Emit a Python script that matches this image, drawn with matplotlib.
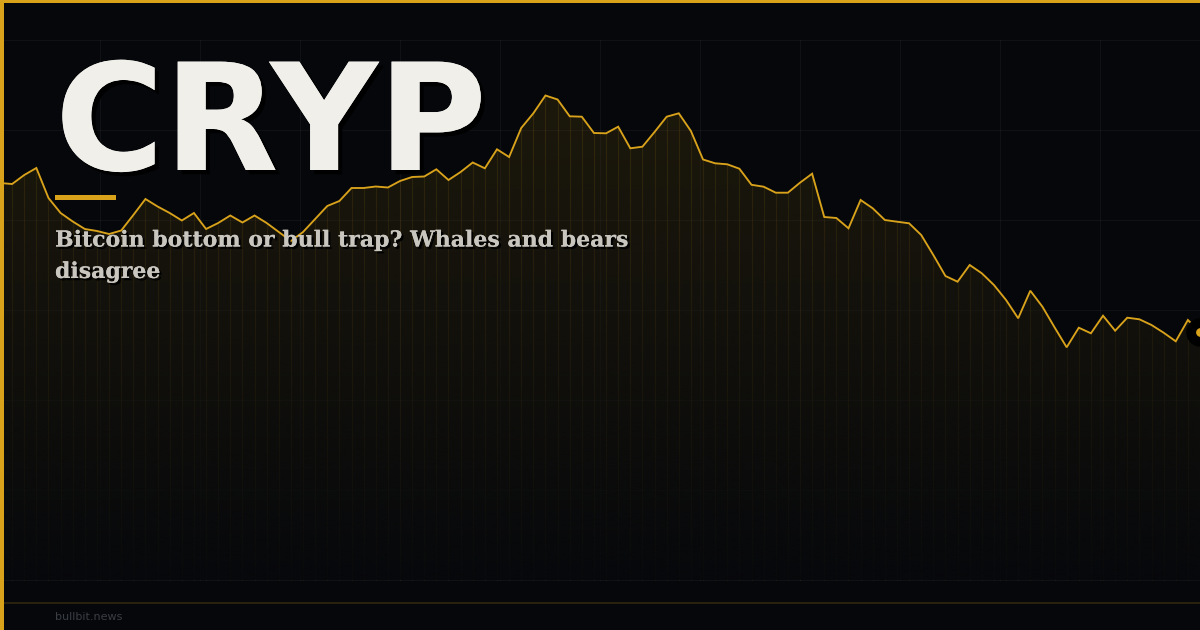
import numpy as np
import matplotlib
matplotlib.use("Agg")
import matplotlib.pyplot as plt
import matplotlib.patheffects as pe
from matplotlib.patches import Polygon, Rectangle

# ---------------- data ----------------
price = [397, 396, 405, 412, 382, 367, 358.5, 351, 349, 346,
         349.5, 365, 381, 373.5, 367, 359.5, 367, 351, 357, 364.5,
         357.5, 364.5, 357, 348, 339, 348, 361, 374, 379, 392,
         392, 393.5, 392.5, 399, 403, 403.5, 410.7, 400, 408, 417.5,
         411.7, 430.7, 423, 452, 466.7, 484.5, 480.5, 463.7, 463.3, 447,
         446.7, 453.3, 431.7, 433.3, 448, 463.3, 466.7, 449, 420.5, 416.7,
         415.7, 411.3, 395.2, 393.3, 387.3, 387.3, 397.3, 406.3, 363, 362,
         351.7, 380, 371.7, 360, 358.3, 356.7, 345, 325, 304, 298.3,
         315, 306.7, 295, 280, 261.7, 289.3, 273.3, 252.7, 232.7, 252.3,
         246.7, 264.3, 249.3, 262.3, 260.7, 255, 247.3, 238.7, 260, 248]
steps = list(range(len(price)))
title = "CRYP"
subtitle = "Bitcoin bottom or bull trap? Whales and bears\ndisagree"
source = "bullbit.news"

# ---------------- style ----------------
BG = "#05070b"
GOLD = "#d9a21b"
W, H = 1200, 630

fig = plt.figure(figsize=(12, 6.3), dpi=100, facecolor=BG)

# decoration layer in pixel coordinates
deco = fig.add_axes([0, 0, 1, 1], zorder=0)
deco.set_xlim(0, W)
deco.set_ylim(H, 0)
deco.axis("off")
deco.set_facecolor(BG)
for gx in range(100, W, 100):
    deco.plot([gx, gx], [40, 580], color="#ffffff", alpha=0.045, lw=0.8)
for gy in range(40, 581, 90):
    deco.plot([0, W], [gy, gy], color="#ffffff", alpha=0.045, lw=0.8)

# data layer
ax = fig.add_axes([0, 0, 1, 1], zorder=1)
ax.patch.set_alpha(0)
ax.axis("off")
ax.set_xlim(0, len(price) - 1)
ax.set_ylim(-50, 580)

x = np.array(steps, dtype=float)
y = np.array(price, dtype=float)

verts = np.column_stack([np.r_[x, x[-1], x[0]], np.r_[y, 0, 0]])
poly = Polygon(verts, closed=True, facecolor=GOLD, alpha=0.11, edgecolor="none", zorder=1)
ax.add_patch(poly)
ax.vlines(x, 0, y, colors=GOLD, alpha=0.13, lw=0.8, zorder=2)

# darkening gradient toward the bottom, clipped to the area
ymax = y.max()
n = 256
alphas = np.linspace(0.0, 0.92, n)[:, None]
grad = np.zeros((n, 1, 4))
grad[..., 0] = 5 / 255
grad[..., 1] = 7 / 255
grad[..., 2] = 11 / 255
grad[..., 3] = alphas
im = ax.imshow(grad, extent=[x[0], x[-1], 0, ymax], origin="upper",
               aspect="auto", zorder=3, interpolation="bilinear")
clip_poly = Polygon(verts, closed=True, transform=ax.transData)
im.set_clip_path(clip_poly)

ax.plot(x, y, color=GOLD, lw=1.35, zorder=4, solid_joinstyle="miter")
ax.scatter([x[-1]], [y[-1]], s=420, color="black", zorder=5, clip_on=False, linewidths=0)
ax.scatter([x[-1]], [y[-1]], s=40, color=GOLD, zorder=6, clip_on=False, linewidths=0)

# overlay text and frame
top = fig.add_axes([0, 0, 1, 1], zorder=2)
top.set_xlim(0, W)
top.set_ylim(H, 0)
top.axis("off")
top.patch.set_alpha(0)

top.add_patch(Rectangle((0, 0), W, 3, color=GOLD, lw=0))
top.add_patch(Rectangle((0, 0), 4, H, color=GOLD, lw=0))
top.add_patch(Rectangle((55, 195), 61, 5, color=GOLD, lw=0))
top.plot([4, W], [603, 603], color=GOLD, alpha=0.2, lw=1.2)

top.text(55, 170, title, fontsize=107, fontweight="bold", family="DejaVu Sans",
         color="#f0efea", va="baseline", ha="left",
         path_effects=[pe.withSimplePatchShadow(offset=(3, -3), shadow_rgbFace="black", alpha=1.0),
                       pe.Normal()])
sub_lines = subtitle.split("\n")
for k, line in enumerate(sub_lines):
    top.text(55, 246.5 + 31.5 * k, line, fontsize=15.85, fontweight="bold", family="DejaVu Serif",
             color="#c9c6bf", va="baseline", ha="left",
             path_effects=[pe.withSimplePatchShadow(offset=(1.6, -1.6), shadow_rgbFace="black", alpha=1.0),
                           pe.Normal()])
top.text(55, 617, source, fontsize=8, family="DejaVu Sans", color="#3a3d43",
         va="center", ha="left")

fig.savefig("out.png", dpi=100, facecolor=BG)
